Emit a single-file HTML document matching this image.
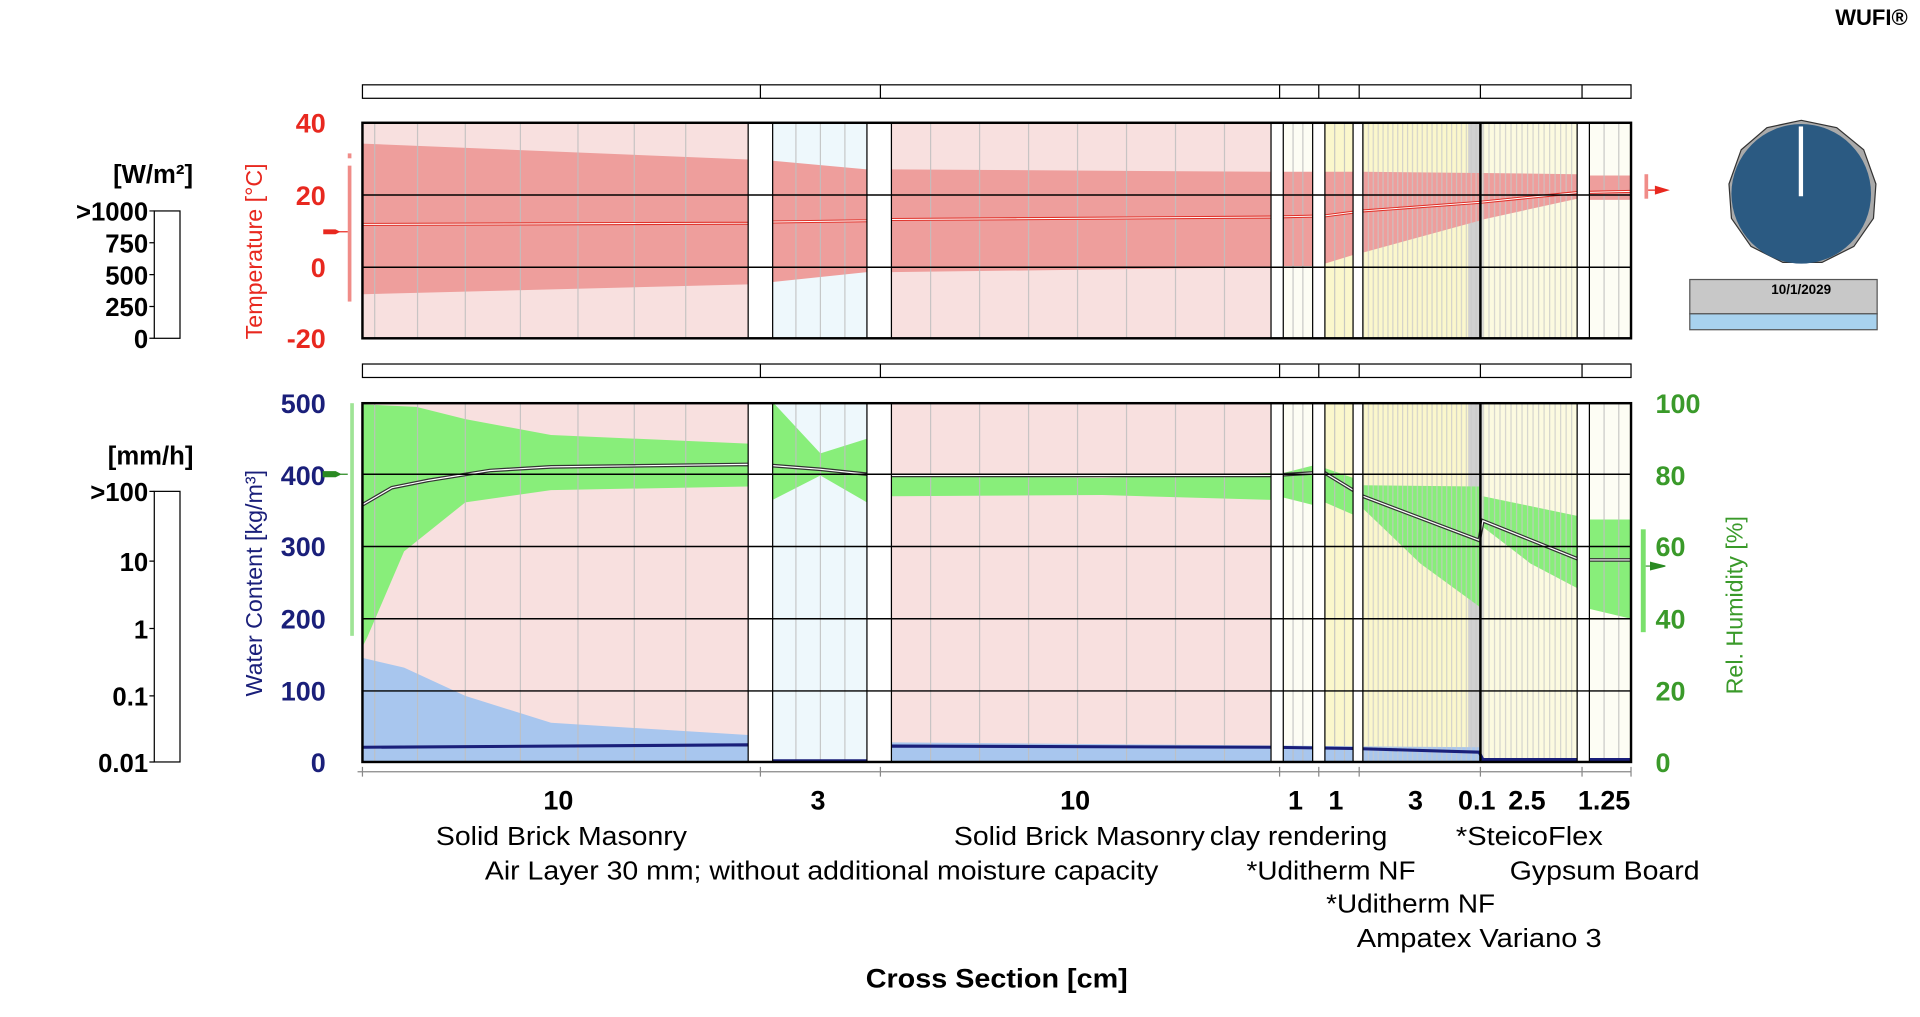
<!DOCTYPE html>
<html><head><meta charset="utf-8"><style>html,body{margin:0;padding:0;background:#fff;overflow:hidden}svg{display:block}text{font-family:"Liberation Sans",sans-serif}</style></head><body>
<svg width="1920" height="1017" viewBox="0 0 1568 830" xmlns="http://www.w3.org/2000/svg">
<defs>
<pattern id="p4" x="1113" y="0" width="4" height="10" patternUnits="userSpaceOnUse"><rect x="0" y="0" width="1" height="10" fill="#c8c8c8"/></pattern>
<pattern id="p45" x="1211" y="0" width="4.5" height="10" patternUnits="userSpaceOnUse"><rect x="0" y="0" width="1" height="10" fill="#c8c8c8"/></pattern>
</defs>
<rect width="1568" height="830" fill="#fff"/>
<text x="1558" y="20" font-size="18" font-weight="bold" text-anchor="end">WUFI®</text>
<g fill="#fff" stroke="#000" stroke-width="1">
<rect x="296" y="69" width="1036" height="11"/><rect x="296" y="297" width="1036" height="11"/>
</g>
<g stroke="#000" stroke-width="1">
<path d="M621 69v11M719 69v11M1045 69v11M1077 69v11M1110 69v11M1209 69v11M1292 69v11M621 297v11M719 297v11M1045 297v11M1077 297v11M1110 297v11M1209 297v11M1292 297v11"/>
</g>
<!-- backgrounds -->
<g>
<rect x="296" y="100" width="315" height="176" fill="#f8e0df"/><rect x="296" y="329" width="315" height="293" fill="#f8e0df"/>
<rect x="631" y="100" width="77" height="176" fill="#eef8fc"/><rect x="631" y="329" width="77" height="293" fill="#eef8fc"/>
<rect x="728" y="100" width="310" height="176" fill="#f8e0df"/><rect x="728" y="329" width="310" height="293" fill="#f8e0df"/>
<rect x="1048" y="100" width="24" height="176" fill="#fdfdf4"/><rect x="1048" y="329" width="24" height="293" fill="#fdfdf4"/>
<rect x="1082" y="100" width="23" height="176" fill="#fbf7cc"/><rect x="1082" y="329" width="23" height="293" fill="#fbf7cc"/>
<rect x="1113" y="100" width="95" height="176" fill="#fbf7cc"/><rect x="1113" y="329" width="95" height="293" fill="#fbf7cc"/>
<rect x="1199" y="100" width="12" height="176" fill="#d0d0d0"/><rect x="1199" y="329" width="12" height="293" fill="#d0d0d0"/>
<rect x="1211" y="100" width="77" height="176" fill="#fcfae0"/><rect x="1211" y="329" width="77" height="293" fill="#fcfae0"/>
<rect x="1298" y="100" width="34" height="176" fill="#fdfdf4"/><rect x="1298" y="329" width="34" height="293" fill="#fdfdf4"/>
</g>
<!-- temperature band -->
<g fill="#ee9e9c">
<polygon points="296,117 611,130 611,232 296,240"/>
<polygon points="631,131 708,138 708,222 631,230"/>
<polygon points="728,138 1038,140 1038,218 728,222"/>
<polygon points="1048,140 1072,140 1072,217 1048,217"/>
<polygon points="1082,140 1105,140 1105,208 1082,215"/>
<polygon points="1113,140 1208,141 1208,180 1113,206"/>
<polygon points="1211,141 1288,142 1288,162 1211,179"/>
<polygon points="1298,143 1332,143 1332,163 1298,163"/>
</g>
<!-- lower fills -->
<g fill="#88ee7a">
<polygon points="296,330 340,332 380,342 450,355 611,362 611,397 450,400 380,410 330,450 300,520 296,528"/>
<polygon points="631,328 670,370 708,358 708,410 670,388 631,408"/>
<polygon points="728,388 900,390 1038,386 1038,408 900,404 728,405"/>
<polygon points="1048,386 1072,380 1072,412 1048,406"/>
<polygon points="1082,382 1105,390 1105,420 1082,410"/>
<polygon points="1113,396 1208,397 1208,495 1160,460 1113,415"/>
<polygon points="1211,405 1288,421 1288,480 1250,460 1211,430"/>
<polygon points="1298,424 1332,424 1332,505 1298,497"/>
</g>
<polygon fill="#a8c6ee" points="296,537 330,545 380,568 450,590 611,600 611,622 296,622"/>
<polygon fill="#a8c6ee" points="728,606 1208,610 1208,622 728,622"/>
<!-- vertical grid lines -->
<g opacity="0.75">
<rect x="1113" y="100" width="95" height="176" fill="url(#p4)"/><rect x="1113" y="329" width="95" height="293" fill="url(#p4)"/>
<rect x="1211" y="100" width="77" height="176" fill="url(#p45)"/><rect x="1211" y="329" width="77" height="293" fill="url(#p45)"/>
</g>
<g stroke="#c0c0c0" stroke-width="1" opacity="0.85">
<path d="M306 100V276M341 100V276M380 100V276M425 100V276M472 100V276M518 100V276M560 100V276M650 100V276M670 100V276M690 100V276M760 100V276M800 100V276M840 100V276M880 100V276M920 100V276M960 100V276M1000 100V276M1056 100V276M1064 100V276M1090 100V276M1098 100V276M1310 100V276M1322 100V276"/>
<path d="M306 329V622M341 329V622M380 329V622M425 329V622M472 329V622M518 329V622M560 329V622M650 329V622M670 329V622M690 329V622M760 329V622M800 329V622M840 329V622M880 329V622M920 329V622M960 329V622M1000 329V622M1056 329V622M1064 329V622M1090 329V622M1098 329V622M1310 329V622M1322 329V622"/>
</g>
<polyline fill="none" stroke="#e0322a" stroke-width="2.5" points="296,183 611,182 631,181 708,180 728,179 1038,177 1082,176 1113,172 1208,165 1288,157 1332,156"/>
<polyline fill="none" stroke="#fff" stroke-width="0.8" points="296,183 611,182 631,181 708,180 728,179 1038,177 1082,176 1113,172 1208,165 1288,157 1332,156"/>
<polyline fill="none" stroke="#333" stroke-width="3" points="296,412 320,398 350,392 400,384 450,381 611,379 631,380 670,383 708,387 728,388 1038,388 1072,386 1082,386 1105,400 1113,405 1208,441 1211,425 1288,456 1298,457 1332,457"/>
<polyline fill="none" stroke="#fff" stroke-width="1" points="296,412 320,398 350,392 400,384 450,381 611,379 631,380 670,383 708,387 728,388 1038,388 1072,386 1082,386 1105,400 1113,405 1208,441 1211,425 1288,456 1298,457 1332,457"/>
<polyline fill="none" stroke="#1a1f7a" stroke-width="2.5" points="296,610 611,608 631,621 708,621 728,609 1038,610 1105,611 1208,614 1211,620 1332,620"/>
<!-- gaps -->
<g fill="#fff" stroke="#000" stroke-width="1">
<rect x="611" y="100" width="20" height="176"/><rect x="708" y="100" width="20" height="176"/><rect x="1038" y="100" width="10" height="176"/><rect x="1072" y="100" width="10" height="176"/><rect x="1105" y="100" width="8" height="176"/><rect x="1288" y="100" width="10" height="176"/>
<rect x="611" y="329" width="20" height="293"/><rect x="708" y="329" width="20" height="293"/><rect x="1038" y="329" width="10" height="293"/><rect x="1072" y="329" width="10" height="293"/><rect x="1105" y="329" width="8" height="293"/><rect x="1288" y="329" width="10" height="293"/>
</g>
<g stroke="#000" stroke-width="1.2">
<path d="M296 159H1332M296 218H1332M296 387H1332M296 446H1332M296 505H1332M296 564H1332"/>
</g>
<g fill="none" stroke="#000" stroke-width="2">
<rect x="296" y="100" width="1036" height="176"/><rect x="296" y="329" width="1036" height="293"/>
<path d="M1209 100v176M1209 329v293"/>
</g>
<path d="M292 630H1332" stroke="#888"/>
<g stroke="#888"><path d="M296 626v8M621 626v8M719 626v8M1045 626v8M1077 626v8M1110 626v8M1209 626v8M1292 626v8M1332 626v8"/></g>
<!-- axes labels -->
<g fill="#e8281f" font-size="22" font-weight="bold" text-anchor="end">
<text x="266" y="108">40</text><text x="266" y="167">20</text><text x="266" y="226">0</text><text x="266" y="284">-20</text>
</g>
<text transform="translate(214,205) rotate(-90)" fill="#e8281f" font-size="19" text-anchor="middle">Temperature [°C]</text>
<rect x="284" y="135" width="3" height="111" fill="#f08c88"/><rect x="284" y="125" width="3" height="4" fill="#f08c88"/>
<path d="M264 187h10l4 2-4 2h-10z" fill="#e8281f"/><path d="M274 189h10" stroke="#e8281f"/>
<rect x="1343" y="142" width="3" height="20" fill="#f08c88"/><path d="M1346 155h8M1352 152l10 3-10 3z" fill="#e8281f" stroke="#e8281f"/>
<g fill="#1a1f7a" font-size="22" font-weight="bold" text-anchor="end">
<text x="266" y="337">500</text><text x="266" y="396">400</text><text x="266" y="454">300</text><text x="266" y="513">200</text><text x="266" y="572">100</text><text x="266" y="630">0</text>
</g>
<text transform="translate(214,476) rotate(-90)" fill="#1a1f7a" font-size="19" text-anchor="middle">Water Content [kg/m³]</text>
<rect x="286" y="329" width="3" height="190" fill="#9fe496"/>
<path d="M264 385h10l4 2-4 2h-10zM274 387h10" fill="#2a8a22" stroke="#2a8a22"/>
<g fill="#3a9a2a" font-size="22" font-weight="bold" text-anchor="start">
<text x="1352" y="337">100</text><text x="1352" y="396">80</text><text x="1352" y="454">60</text><text x="1352" y="513">40</text><text x="1352" y="572">20</text><text x="1352" y="630">0</text>
</g>
<text transform="translate(1423,494) rotate(-90)" fill="#3a9a2a" font-size="19" text-anchor="middle">Rel. Humidity [%]</text>
<rect x="1340" y="432" width="4" height="84" fill="#7ae06c"/><path d="M1344 462h6M1348 459l12 3-12 3z" fill="#2a8a22" stroke="#2a8a22"/>
<!-- left panels -->
<text x="125" y="149" font-size="21" font-weight="bold" text-anchor="middle">[W/m²]</text>
<rect x="126" y="172" width="21" height="104" fill="#fff" stroke="#000"/>
<g font-size="21" font-weight="bold" text-anchor="end"><text x="121" y="180">&gt;1000</text><text x="121" y="206">750</text><text x="121" y="232">500</text><text x="121" y="258">250</text><text x="121" y="284">0</text></g>
<g stroke="#000"><path d="M122 172h4M122 198h4M122 224h4M122 250h4M122 276h4"/></g>
<text x="123" y="379" font-size="21" font-weight="bold" text-anchor="middle">[mm/h]</text>
<rect x="126" y="401" width="21" height="221" fill="#fff" stroke="#000"/>
<g font-size="21" font-weight="bold" text-anchor="end"><text x="121" y="409">&gt;100</text><text x="121" y="466">10</text><text x="121" y="521">1</text><text x="121" y="576">0.1</text><text x="121" y="630">0.01</text></g>
<g stroke="#000"><path d="M122 401h4M122 458h4M122 513h4M122 568h4M122 622h4"/></g>
<!-- clock -->
<polygon points="1471,98 1500,104 1522,122 1532,150 1530,178 1514,201 1488,214 1456,214 1430,201 1414,178 1412,150 1422,122 1443,104" fill="#aaa" stroke="#333"/>
<circle cx="1471" cy="158" r="57" fill="#2b5a82"/>
<rect x="1469" y="103" width="3.5" height="57" fill="#fff"/>
<rect x="1380" y="228" width="153" height="28" fill="#c8c8c8" stroke="#555"/>
<rect x="1380" y="256" width="153" height="13" fill="#a8d2ee" stroke="#555"/>
<text x="1471" y="240" font-size="11" font-weight="bold" text-anchor="middle">10/1/2029</text>
<!-- bottom labels -->
<g font-size="22" font-weight="bold" text-anchor="middle">
<text x="456" y="661">10</text><text x="668" y="661">3</text><text x="878" y="661">10</text><text x="1058" y="661">1</text><text x="1091" y="661">1</text><text x="1156" y="661">3</text><text x="1206" y="661">0.1</text><text x="1247" y="661">2.5</text><text x="1310" y="661">1.25</text>
</g>
<g font-size="21.5">
<text x="356" y="690" textLength="205" lengthAdjust="spacingAndGlyphs">Solid Brick Masonry</text>
<text x="779" y="690" textLength="205" lengthAdjust="spacingAndGlyphs">Solid Brick Masonry</text>
<text x="988" y="690" textLength="145" lengthAdjust="spacingAndGlyphs">clay rendering</text>
<text x="1189" y="690" textLength="120" lengthAdjust="spacingAndGlyphs">*SteicoFlex</text>
<text x="396" y="718" textLength="550" lengthAdjust="spacingAndGlyphs">Air Layer 30 mm; without additional moisture capacity</text>
<text x="1018" y="718" textLength="138" lengthAdjust="spacingAndGlyphs">*Uditherm NF</text>
<text x="1233" y="718" textLength="155" lengthAdjust="spacingAndGlyphs">Gypsum Board</text>
<text x="1083" y="745" textLength="138" lengthAdjust="spacingAndGlyphs">*Uditherm NF</text>
<text x="1108" y="773" textLength="200" lengthAdjust="spacingAndGlyphs">Ampatex Variano 3</text>
</g>
<text x="814" y="806" font-size="22" font-weight="bold" text-anchor="middle" textLength="214" lengthAdjust="spacingAndGlyphs">Cross Section [cm]</text>
</svg>
</body></html>
